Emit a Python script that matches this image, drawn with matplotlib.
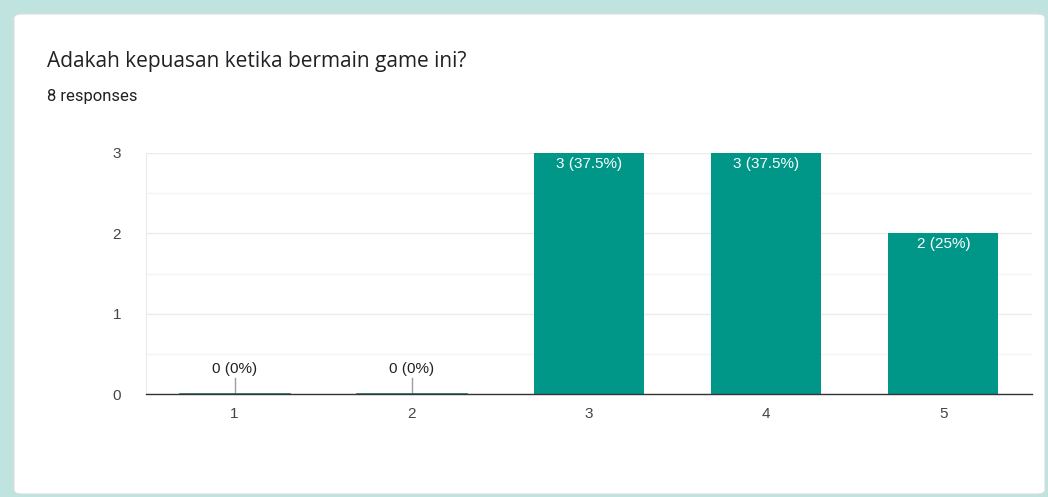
import matplotlib.pyplot as plt
from matplotlib.patches import FancyBboxPatch

plt.rcParams['font.family'] = ['Liberation Sans', 'DejaVu Sans']

categories = ['1', '2', '3', '4', '5']
counts = [0, 0, 3, 3, 2]
total = 8
yticks = [0, 1, 2, 3]

bar_color = '#009688'

fig = plt.figure(figsize=(10.48, 4.97), dpi=100)
fig.patch.set_facecolor('#bfe4df')

# white card behind everything
card = FancyBboxPatch((14 / 1048, 3 / 497), 1031 / 1048, 480 / 497,
                      boxstyle='round,pad=0,rounding_size=0.008',
                      transform=fig.transFigure, facecolor='white',
                      edgecolor='#dadce0', linewidth=0.8, zorder=-10)
fig.patches.append(card)

fig.text(47 / 1048, 1 - 61 / 497, 'Adakah kepuasan ketika bermain game ini?',
         fontsize=15, family=['Open Sans', 'DejaVu Sans'],
         color='#202124', va='center', ha='left')
fig.text(47 / 1048, 1 - 97 / 497, '8 responses', fontsize=12,
         family=['Roboto', 'DejaVu Sans'],
         color='#202124', va='center', ha='left')

ax = fig.add_axes([146 / 1048, 1 - 394 / 497, 886 / 1048, 241 / 497])
ax.set_facecolor('none')

x = list(range(len(categories)))
width = 0.62
ax.bar(x, counts, width=width, color=bar_color, zorder=3)

for xi, c in zip(x, counts):
    label = f'{c} ({c / total * 100:g}%)'
    if c > 0:
        ax.text(xi, c - 0.05, label, ha='center', va='top',
                color='white', fontsize=11, zorder=4)
    else:
        # empty category: faint bar on the baseline and a pointer to its label
        ax.plot([xi - width / 2, xi + width / 2], [0, 0],
                color='#1e6b62', lw=1.2, zorder=6)
        ax.plot([xi, xi], [0, 0.2], color='#9e9e9e', lw=1, zorder=3)
        ax.text(xi, 0.22, label, ha='center', va='bottom',
                color='#222222', fontsize=11, zorder=4)

ax.set_xlim(-0.5, len(categories) - 0.5)
ax.set_ylim(0, 3)
ax.set_xticks(x)
ax.set_xticklabels(categories)
ax.set_yticks(yticks)
ax.set_yticks([0.5, 1.5, 2.5], minor=True)
ax.tick_params(axis='both', which='both', length=0)
ax.tick_params(axis='both', labelsize=11, colors='#444444')
ax.tick_params(axis='x', pad=9)
ax.tick_params(axis='y', pad=18)
ax.grid(axis='y', which='major', color='#ebebeb', lw=1, zorder=0)
ax.grid(axis='y', which='minor', color='#f4f4f4', lw=1, zorder=0)

for side in ['top', 'right']:
    ax.spines[side].set_visible(False)
ax.spines['left'].set_color('#ebebeb')
ax.spines['bottom'].set_color('#333333')
ax.spines['bottom'].set_linewidth(1)
ax.spines['bottom'].set_zorder(5)

fig.savefig('out.png', dpi=100, facecolor=fig.get_facecolor())
